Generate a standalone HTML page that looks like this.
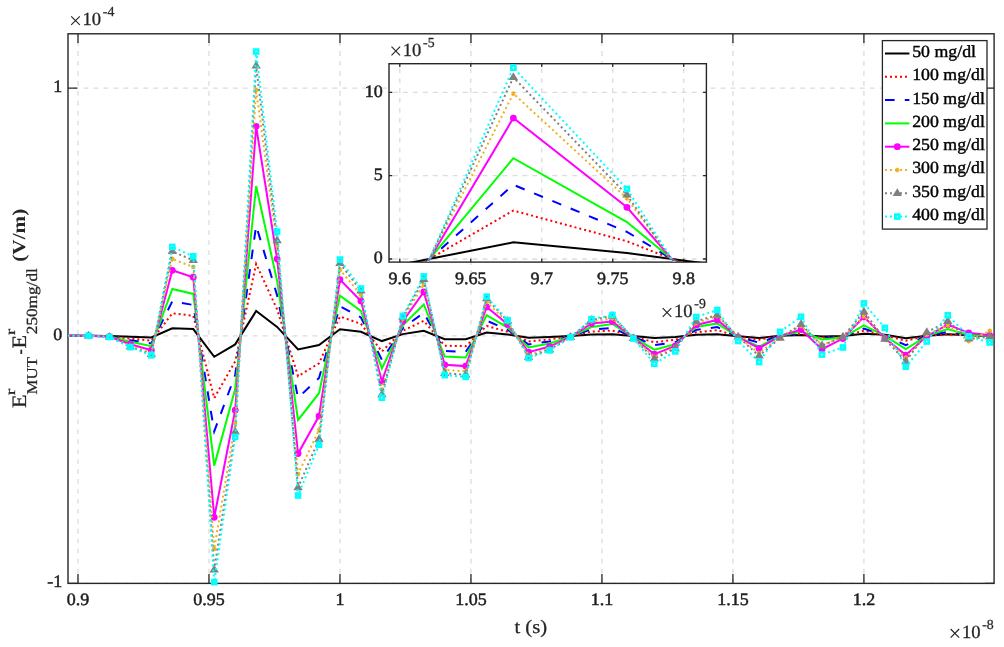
<!DOCTYPE html>
<html><head><meta charset="utf-8"><title>chart</title>
<style>html,body{margin:0;padding:0;background:#fff;}body{width:1004px;height:647px;overflow:hidden;font-family:"Liberation Serif",serif;}svg{display:block;will-change:transform;text-rendering:geometricPrecision;}</style>
</head><body>
<svg width="1004" height="647" viewBox="0 0 1004 647" font-family="'Liberation Serif', serif"><defs><clipPath id="cm"><rect x="68.0" y="33.8" width="926.1" height="549.6"/></clipPath><clipPath id="ci"><rect x="389.0" y="63.7" width="317.4" height="198.40000000000003"/></clipPath></defs>
<g stroke="#dcdcdc" stroke-width="1.3" stroke-dasharray="4.8 5.153"><line x1="78" y1="583.4" x2="78" y2="33.8"/><line x1="208.98" y1="583.4" x2="208.98" y2="33.8"/><line x1="339.97" y1="583.4" x2="339.97" y2="33.8"/><line x1="470.96" y1="583.4" x2="470.96" y2="33.8"/><line x1="601.94" y1="583.4" x2="601.94" y2="33.8"/><line x1="732.92" y1="583.4" x2="732.92" y2="33.8"/><line x1="863.91" y1="583.4" x2="863.91" y2="33.8"/><line x1="994.1" y1="583.4" x2="68.0" y2="583.4"/><line x1="994.1" y1="335.8" x2="68.0" y2="335.8"/><line x1="994.1" y1="88.2" x2="68.0" y2="88.2"/></g>
<path d="M78 583.4V574.1M78 33.8V43.1M208.98 583.4V574.1M208.98 33.8V43.1M339.97 583.4V574.1M339.97 33.8V43.1M470.96 583.4V574.1M470.96 33.8V43.1M601.94 583.4V574.1M601.94 33.8V43.1M732.92 583.4V574.1M732.92 33.8V43.1M863.91 583.4V574.1M863.91 33.8V43.1M68.0 583.4H77.3M994.1 583.4H984.8M68.0 335.8H77.3M994.1 335.8H984.8M68.0 88.2H77.3M994.1 88.2H984.8" stroke="#262626" stroke-width="1.3" fill="none"/>
<rect x="68.0" y="33.8" width="926.1" height="549.6" fill="none" stroke="#262626" stroke-width="1.4"/>
<g><polyline clip-path="url(#cm)" points="67.52,335.8 88.48,335.8 109.44,335.91 130.39,336.77 151.35,337.46 172.31,328.24 193.27,329.04 214.22,356.74 235.18,344.39 256.14,311.04 277.1,326.89 298.05,349.37 319.01,345.06 339.97,329.32 360.93,331.78 381.89,341.06 402.84,334.12 423.8,330.75 444.76,339.15 465.72,339.29 486.67,332.47 507.63,334.47 528.59,337.69 549.55,337.04 570.5,335.93 591.46,334.39 612.42,334.31 633.38,336.05 654.33,338.03 675.29,337.04 696.25,334.81 717.21,334.31 738.16,336.3 759.12,338.03 780.08,335.8 801.04,335.06 821.99,336.54 842.95,336.05 863.91,333.82 884.87,334.81 905.83,338.28 926.78,335.8 947.74,334.31 968.7,335.3 989.66,335.8 1010.61,335.8" fill="none" stroke="#000000" stroke-width="2.0" stroke-linejoin="miter"/>
<polyline clip-path="url(#cm)" points="67.52,335.8 88.48,335.8 109.44,336.11 130.39,338.68 151.35,340.75 172.31,313.31 193.27,315.69 214.22,398.13 235.18,361.36 256.14,263.89 277.1,309.43 298.05,376.2 319.01,363.36 339.97,316.51 360.93,323.84 381.89,351.46 402.84,330.79 423.8,320.77 444.76,345.76 465.72,346.2 486.67,325.9 507.63,331.85 528.59,341.44 549.55,339.5 570.5,336.18 591.46,331.6 612.42,330.6 633.38,336.54 654.33,342.24 675.29,339.76 696.25,332.33 717.21,330.11 738.16,336.54 759.12,339.76 780.08,335.8 801.04,333.82 821.99,337.53 842.95,336.54 863.91,330.6 884.87,335.3 905.83,340.75 926.78,335.8 947.74,334.31 968.7,335.3 989.66,335.8 1010.61,335.8" fill="none" stroke="#ff0000" stroke-width="2.0" stroke-dasharray="2 3" stroke-linejoin="miter"/>
<polyline clip-path="url(#cm)" points="67.52,335.8 88.48,335.8 109.44,336.28 130.39,340.22 151.35,343.39 172.31,301.31 193.27,304.96 214.22,431.39 235.18,375 256.14,225.51 277.1,295.36 298.05,397.76 319.01,378.07 339.97,306.21 360.93,317.45 381.89,359.82 402.84,328.11 423.8,312.74 444.76,351.07 465.72,351.75 486.67,320.62 507.63,329.75 528.59,344.45 549.55,341.47 570.5,336.38 591.46,329.36 612.42,328.12 633.38,336.79 654.33,345.21 675.29,342.24 696.25,329.86 717.21,327.13 738.16,336.79 759.12,342.73 780.08,335.8 801.04,332.83 821.99,338.28 842.95,337.04 863.91,328.62 884.87,335.8 905.83,345.21 926.78,335.8 947.74,331.84 968.7,335.3 989.66,335.8 1010.61,335.8" fill="none" stroke="#0000ff" stroke-width="2.0" stroke-dasharray="9.6 10.2" stroke-dashoffset="17.16" stroke-linejoin="miter"/>
<polyline clip-path="url(#cm)" points="67.52,335.8 88.48,335.8 109.44,336.45 130.39,341.8 151.35,346.11 172.31,288.96 193.27,293.91 214.22,465.63 235.18,389.04 256.14,186 277.1,280.87 298.05,419.96 319.01,393.21 339.97,295.61 360.93,310.88 381.89,368.42 402.84,325.36 423.8,304.48 444.76,356.55 465.72,357.46 486.67,315.18 507.63,327.58 528.59,347.54 549.55,343.5 570.5,336.58 591.46,327.06 612.42,323.92 633.38,337.29 654.33,349.67 675.29,344.22 696.25,326.89 717.21,323.42 738.16,337.04 759.12,346.69 780.08,335.8 801.04,331.59 821.99,339.51 842.95,337.53 863.91,325.4 884.87,335.8 905.83,349.17 926.78,335.8 947.74,329.11 968.7,335.06 989.66,335.8 1010.61,335.8" fill="none" stroke="#00ff00" stroke-width="2.0" stroke-linejoin="miter"/>
<polyline clip-path="url(#cm)" points="67.52,335.8 88.48,335.8 109.44,336.71 130.39,344.19 151.35,350.22 172.31,270.29 193.27,277.22 214.22,517.37 235.18,410.25 256.14,126.31 277.1,258.98 298.05,453.5 319.01,416.09 339.97,279.6 360.93,300.95 381.89,381.42 402.84,321.2 423.8,292 444.76,364.81 465.72,366.09 486.67,306.97 507.63,324.3 528.59,352.22 549.55,346.57 570.5,336.89 591.46,323.57 612.42,321.44 633.38,337.78 654.33,354.12 675.29,345.95 696.25,324.91 717.21,319.95 738.16,337.04 759.12,348.43 780.08,335.8 801.04,329.61 821.99,349.17 842.95,338.52 863.91,316.73 884.87,338.28 905.83,355.11 926.78,336.3 947.74,324.66 968.7,332.83 989.66,335.3 1010.61,335.8" fill="none" stroke="#ff00ff" stroke-width="2.0" stroke-linejoin="miter"/>
<circle cx="88.48" cy="335.8" r="3.4" fill="#ff00ff"/>
<circle cx="109.44" cy="336.71" r="3.4" fill="#ff00ff"/>
<circle cx="130.39" cy="344.19" r="3.4" fill="#ff00ff"/>
<circle cx="151.35" cy="350.22" r="3.4" fill="#ff00ff"/>
<circle cx="172.31" cy="270.29" r="3.4" fill="#ff00ff"/>
<circle cx="193.27" cy="277.22" r="3.4" fill="#ff00ff"/>
<circle cx="214.22" cy="517.37" r="3.4" fill="#ff00ff"/>
<circle cx="235.18" cy="410.25" r="3.4" fill="#ff00ff"/>
<circle cx="256.14" cy="126.31" r="3.4" fill="#ff00ff"/>
<circle cx="277.1" cy="258.98" r="3.4" fill="#ff00ff"/>
<circle cx="298.05" cy="453.5" r="3.4" fill="#ff00ff"/>
<circle cx="319.01" cy="416.09" r="3.4" fill="#ff00ff"/>
<circle cx="339.97" cy="279.6" r="3.4" fill="#ff00ff"/>
<circle cx="360.93" cy="300.95" r="3.4" fill="#ff00ff"/>
<circle cx="381.89" cy="381.42" r="3.4" fill="#ff00ff"/>
<circle cx="402.84" cy="321.2" r="3.4" fill="#ff00ff"/>
<circle cx="423.8" cy="292" r="3.4" fill="#ff00ff"/>
<circle cx="444.76" cy="364.81" r="3.4" fill="#ff00ff"/>
<circle cx="465.72" cy="366.09" r="3.4" fill="#ff00ff"/>
<circle cx="486.67" cy="306.97" r="3.4" fill="#ff00ff"/>
<circle cx="507.63" cy="324.3" r="3.4" fill="#ff00ff"/>
<circle cx="528.59" cy="352.22" r="3.4" fill="#ff00ff"/>
<circle cx="549.55" cy="346.57" r="3.4" fill="#ff00ff"/>
<circle cx="570.5" cy="336.89" r="3.4" fill="#ff00ff"/>
<circle cx="591.46" cy="323.57" r="3.4" fill="#ff00ff"/>
<circle cx="612.42" cy="321.44" r="3.4" fill="#ff00ff"/>
<circle cx="633.38" cy="337.78" r="3.4" fill="#ff00ff"/>
<circle cx="654.33" cy="354.12" r="3.4" fill="#ff00ff"/>
<circle cx="675.29" cy="345.95" r="3.4" fill="#ff00ff"/>
<circle cx="696.25" cy="324.91" r="3.4" fill="#ff00ff"/>
<circle cx="717.21" cy="319.95" r="3.4" fill="#ff00ff"/>
<circle cx="738.16" cy="337.04" r="3.4" fill="#ff00ff"/>
<circle cx="759.12" cy="348.43" r="3.4" fill="#ff00ff"/>
<circle cx="780.08" cy="335.8" r="3.4" fill="#ff00ff"/>
<circle cx="801.04" cy="329.61" r="3.4" fill="#ff00ff"/>
<circle cx="821.99" cy="349.17" r="3.4" fill="#ff00ff"/>
<circle cx="842.95" cy="338.52" r="3.4" fill="#ff00ff"/>
<circle cx="863.91" cy="316.73" r="3.4" fill="#ff00ff"/>
<circle cx="884.87" cy="338.28" r="3.4" fill="#ff00ff"/>
<circle cx="905.83" cy="355.11" r="3.4" fill="#ff00ff"/>
<circle cx="926.78" cy="336.3" r="3.4" fill="#ff00ff"/>
<circle cx="947.74" cy="324.66" r="3.4" fill="#ff00ff"/>
<circle cx="968.7" cy="332.83" r="3.4" fill="#ff00ff"/>
<circle cx="989.66" cy="335.3" r="3.4" fill="#ff00ff"/>
<polyline clip-path="url(#cm)" points="67.52,335.8 88.48,335.8 109.44,336.87 130.39,345.65 151.35,352.72 172.31,258.91 193.27,267.05 214.22,548.9 235.18,423.18 256.14,89.93 277.1,245.63 298.05,473.94 319.01,430.04 339.97,269.83 360.93,294.89 381.89,389.34 402.84,318.67 423.8,284.4 444.76,369.85 465.72,371.35 486.67,301.96 507.63,322.31 528.59,355.08 549.55,348.44 570.5,337.09 591.46,321.45 612.42,318.47 633.38,338.03 654.33,356.85 675.29,347.19 696.25,322.92 717.21,316.24 738.16,337.04 759.12,353.13 780.08,337.04 801.04,325.9 821.99,344.96 842.95,337.29 863.91,316.24 884.87,338.28 905.83,357.59 926.78,334.56 947.74,325.4 968.7,341.25 989.66,330.85 1010.61,333.32" fill="none" stroke="#edb120" stroke-width="2.0" stroke-dasharray="2 3" stroke-linejoin="miter"/>
<path d="M88.48 333.5L88.48 338.1M90.47 334.65L86.49 336.95M90.47 336.95L86.49 334.65" stroke="#edb120" stroke-width="1.6" fill="none"/>
<path d="M109.44 334.57L109.44 339.17M111.43 335.72L107.44 338.02M111.43 338.02L107.44 335.72" stroke="#edb120" stroke-width="1.6" fill="none"/>
<path d="M130.39 343.35L130.39 347.95M132.39 344.5L128.4 346.8M132.39 346.8L128.4 344.5" stroke="#edb120" stroke-width="1.6" fill="none"/>
<path d="M151.35 350.42L151.35 355.02M153.34 351.57L149.36 353.87M153.34 353.87L149.36 351.57" stroke="#edb120" stroke-width="1.6" fill="none"/>
<path d="M172.31 256.61L172.31 261.21M174.3 257.76L170.32 260.06M174.3 260.06L170.32 257.76" stroke="#edb120" stroke-width="1.6" fill="none"/>
<path d="M193.27 264.75L193.27 269.35M195.26 265.9L191.27 268.2M195.26 268.2L191.27 265.9" stroke="#edb120" stroke-width="1.6" fill="none"/>
<path d="M214.22 546.6L214.22 551.2M216.22 547.75L212.23 550.05M216.22 550.05L212.23 547.75" stroke="#edb120" stroke-width="1.6" fill="none"/>
<path d="M235.18 420.88L235.18 425.48M237.17 422.03L233.19 424.33M237.17 424.33L233.19 422.03" stroke="#edb120" stroke-width="1.6" fill="none"/>
<path d="M256.14 87.63L256.14 92.23M258.13 88.78L254.15 91.08M258.13 91.08L254.15 88.78" stroke="#edb120" stroke-width="1.6" fill="none"/>
<path d="M277.1 243.33L277.1 247.93M279.09 244.48L275.11 246.78M279.09 246.78L275.11 244.48" stroke="#edb120" stroke-width="1.6" fill="none"/>
<path d="M298.05 471.64L298.05 476.24M300.05 472.79L296.06 475.09M300.05 475.09L296.06 472.79" stroke="#edb120" stroke-width="1.6" fill="none"/>
<path d="M319.01 427.74L319.01 432.34M321 428.89L317.02 431.19M321 431.19L317.02 428.89" stroke="#edb120" stroke-width="1.6" fill="none"/>
<path d="M339.97 267.53L339.97 272.13M341.96 268.68L337.98 270.98M341.96 270.98L337.98 268.68" stroke="#edb120" stroke-width="1.6" fill="none"/>
<path d="M360.93 292.59L360.93 297.19M362.92 293.74L358.94 296.04M362.92 296.04L358.94 293.74" stroke="#edb120" stroke-width="1.6" fill="none"/>
<path d="M381.89 387.04L381.89 391.64M383.88 388.19L379.89 390.49M383.88 390.49L379.89 388.19" stroke="#edb120" stroke-width="1.6" fill="none"/>
<path d="M402.84 316.37L402.84 320.97M404.83 317.52L400.85 319.82M404.83 319.82L400.85 317.52" stroke="#edb120" stroke-width="1.6" fill="none"/>
<path d="M423.8 282.1L423.8 286.7M425.79 283.25L421.81 285.55M425.79 285.55L421.81 283.25" stroke="#edb120" stroke-width="1.6" fill="none"/>
<path d="M444.76 367.55L444.76 372.15M446.75 368.7L442.77 371M446.75 371L442.77 368.7" stroke="#edb120" stroke-width="1.6" fill="none"/>
<path d="M465.72 369.05L465.72 373.65M467.71 370.2L463.72 372.5M467.71 372.5L463.72 370.2" stroke="#edb120" stroke-width="1.6" fill="none"/>
<path d="M486.67 299.66L486.67 304.26M488.67 300.81L484.68 303.11M488.67 303.11L484.68 300.81" stroke="#edb120" stroke-width="1.6" fill="none"/>
<path d="M507.63 320.01L507.63 324.61M509.62 321.16L505.64 323.46M509.62 323.46L505.64 321.16" stroke="#edb120" stroke-width="1.6" fill="none"/>
<path d="M528.59 352.78L528.59 357.38M530.58 353.93L526.6 356.23M530.58 356.23L526.6 353.93" stroke="#edb120" stroke-width="1.6" fill="none"/>
<path d="M549.55 346.14L549.55 350.74M551.54 347.29L547.55 349.59M551.54 349.59L547.55 347.29" stroke="#edb120" stroke-width="1.6" fill="none"/>
<path d="M570.5 334.79L570.5 339.39M572.5 335.94L568.51 338.24M572.5 338.24L568.51 335.94" stroke="#edb120" stroke-width="1.6" fill="none"/>
<path d="M591.46 319.15L591.46 323.75M593.45 320.3L589.47 322.6M593.45 322.6L589.47 320.3" stroke="#edb120" stroke-width="1.6" fill="none"/>
<path d="M612.42 316.17L612.42 320.77M614.41 317.32L610.43 319.62M614.41 319.62L610.43 317.32" stroke="#edb120" stroke-width="1.6" fill="none"/>
<path d="M633.38 335.73L633.38 340.33M635.37 336.88L631.38 339.18M635.37 339.18L631.38 336.88" stroke="#edb120" stroke-width="1.6" fill="none"/>
<path d="M654.33 354.55L654.33 359.15M656.33 355.7L652.34 358M656.33 358L652.34 355.7" stroke="#edb120" stroke-width="1.6" fill="none"/>
<path d="M675.29 344.89L675.29 349.49M677.28 346.04L673.3 348.34M677.28 348.34L673.3 346.04" stroke="#edb120" stroke-width="1.6" fill="none"/>
<path d="M696.25 320.62L696.25 325.22M698.24 321.77L694.26 324.07M698.24 324.07L694.26 321.77" stroke="#edb120" stroke-width="1.6" fill="none"/>
<path d="M717.21 313.94L717.21 318.54M719.2 315.09L715.21 317.39M719.2 317.39L715.21 315.09" stroke="#edb120" stroke-width="1.6" fill="none"/>
<path d="M738.16 334.74L738.16 339.34M740.16 335.89L736.17 338.19M740.16 338.19L736.17 335.89" stroke="#edb120" stroke-width="1.6" fill="none"/>
<path d="M759.12 350.83L759.12 355.43M761.11 351.98L757.13 354.28M761.11 354.28L757.13 351.98" stroke="#edb120" stroke-width="1.6" fill="none"/>
<path d="M780.08 334.74L780.08 339.34M782.07 335.89L778.09 338.19M782.07 338.19L778.09 335.89" stroke="#edb120" stroke-width="1.6" fill="none"/>
<path d="M801.04 323.6L801.04 328.2M803.03 324.75L799.05 327.05M803.03 327.05L799.05 324.75" stroke="#edb120" stroke-width="1.6" fill="none"/>
<path d="M821.99 342.66L821.99 347.26M823.99 343.81L820 346.11M823.99 346.11L820 343.81" stroke="#edb120" stroke-width="1.6" fill="none"/>
<path d="M842.95 334.99L842.95 339.59M844.94 336.14L840.96 338.44M844.94 338.44L840.96 336.14" stroke="#edb120" stroke-width="1.6" fill="none"/>
<path d="M863.91 313.94L863.91 318.54M865.9 315.09L861.92 317.39M865.9 317.39L861.92 315.09" stroke="#edb120" stroke-width="1.6" fill="none"/>
<path d="M884.87 335.98L884.87 340.58M886.86 337.13L882.88 339.43M886.86 339.43L882.88 337.13" stroke="#edb120" stroke-width="1.6" fill="none"/>
<path d="M905.83 355.29L905.83 359.89M907.82 356.44L903.83 358.74M907.82 358.74L903.83 356.44" stroke="#edb120" stroke-width="1.6" fill="none"/>
<path d="M926.78 332.26L926.78 336.86M928.77 333.41L924.79 335.71M928.77 335.71L924.79 333.41" stroke="#edb120" stroke-width="1.6" fill="none"/>
<path d="M947.74 323.1L947.74 327.7M949.73 324.25L945.75 326.55M949.73 326.55L945.75 324.25" stroke="#edb120" stroke-width="1.6" fill="none"/>
<path d="M968.7 338.95L968.7 343.55M970.69 340.1L966.71 342.4M970.69 342.4L966.71 340.1" stroke="#edb120" stroke-width="1.6" fill="none"/>
<path d="M989.66 328.55L989.66 333.15M991.65 329.7L987.66 332M991.65 332L987.66 329.7" stroke="#edb120" stroke-width="1.6" fill="none"/>
<polyline clip-path="url(#cm)" points="67.52,335.8 88.48,335.8 109.44,336.98 130.39,346.62 151.35,354.38 172.31,251.36 193.27,260.29 214.22,569.84 235.18,431.77 256.14,65.77 277.1,240.47 298.05,487.52 319.01,439.3 339.97,263.35 360.93,290.87 381.89,394.61 402.84,316.98 423.8,279.35 444.76,373.2 465.72,374.85 486.67,298.64 507.63,320.98 528.59,356.97 549.55,349.68 570.5,337.21 591.46,320.04 612.42,315.99 633.38,338.28 654.33,358.83 675.29,348.43 696.25,321.19 717.21,315 738.16,336.79 759.12,355.86 780.08,338.03 801.04,324.41 821.99,345.7 842.95,336.79 863.91,311.78 884.87,339.02 905.83,361.55 926.78,332.33 947.74,321.19 968.7,338.77 989.66,336.79 1010.61,335.8" fill="none" stroke="#808080" stroke-width="2.0" stroke-dasharray="2 3" stroke-linejoin="miter"/>
<path d="M88.48 330.7L93.18 338.5L83.78 338.5Z" fill="#808080"/>
<path d="M109.44 331.88L114.14 339.68L104.74 339.68Z" fill="#808080"/>
<path d="M130.39 341.52L135.09 349.32L125.69 349.32Z" fill="#808080"/>
<path d="M151.35 349.28L156.05 357.08L146.65 357.08Z" fill="#808080"/>
<path d="M172.31 246.26L177.01 254.06L167.61 254.06Z" fill="#808080"/>
<path d="M193.27 255.19L197.97 262.99L188.57 262.99Z" fill="#808080"/>
<path d="M214.22 564.74L218.92 572.54L209.52 572.54Z" fill="#808080"/>
<path d="M235.18 426.67L239.88 434.47L230.48 434.47Z" fill="#808080"/>
<path d="M256.14 60.67L260.84 68.47L251.44 68.47Z" fill="#808080"/>
<path d="M277.1 235.37L281.8 243.17L272.4 243.17Z" fill="#808080"/>
<path d="M298.05 482.42L302.75 490.22L293.35 490.22Z" fill="#808080"/>
<path d="M319.01 434.2L323.71 442L314.31 442Z" fill="#808080"/>
<path d="M339.97 258.25L344.67 266.05L335.27 266.05Z" fill="#808080"/>
<path d="M360.93 285.77L365.63 293.57L356.23 293.57Z" fill="#808080"/>
<path d="M381.89 389.5L386.59 397.31L377.19 397.31Z" fill="#808080"/>
<path d="M402.84 311.88L407.54 319.68L398.14 319.68Z" fill="#808080"/>
<path d="M423.8 274.25L428.5 282.05L419.1 282.05Z" fill="#808080"/>
<path d="M444.76 368.1L449.46 375.9L440.06 375.9Z" fill="#808080"/>
<path d="M465.72 369.75L470.42 377.55L461.02 377.55Z" fill="#808080"/>
<path d="M486.67 293.54L491.37 301.34L481.97 301.34Z" fill="#808080"/>
<path d="M507.63 315.88L512.33 323.68L502.93 323.68Z" fill="#808080"/>
<path d="M528.59 351.87L533.29 359.67L523.89 359.67Z" fill="#808080"/>
<path d="M549.55 344.58L554.25 352.38L544.85 352.38Z" fill="#808080"/>
<path d="M570.5 332.11L575.2 339.91L565.8 339.91Z" fill="#808080"/>
<path d="M591.46 314.94L596.16 322.74L586.76 322.74Z" fill="#808080"/>
<path d="M612.42 310.89L617.12 318.69L607.72 318.69Z" fill="#808080"/>
<path d="M633.38 333.18L638.08 340.98L628.68 340.98Z" fill="#808080"/>
<path d="M654.33 353.73L659.03 361.53L649.63 361.53Z" fill="#808080"/>
<path d="M675.29 343.33L679.99 351.13L670.59 351.13Z" fill="#808080"/>
<path d="M696.25 316.09L700.95 323.89L691.55 323.89Z" fill="#808080"/>
<path d="M717.21 309.9L721.91 317.7L712.51 317.7Z" fill="#808080"/>
<path d="M738.16 331.69L742.86 339.49L733.46 339.49Z" fill="#808080"/>
<path d="M759.12 350.76L763.82 358.56L754.42 358.56Z" fill="#808080"/>
<path d="M780.08 332.93L784.78 340.73L775.38 340.73Z" fill="#808080"/>
<path d="M801.04 319.31L805.74 327.11L796.34 327.11Z" fill="#808080"/>
<path d="M821.99 340.6L826.69 348.4L817.29 348.4Z" fill="#808080"/>
<path d="M842.95 331.69L847.65 339.49L838.25 339.49Z" fill="#808080"/>
<path d="M863.91 306.68L868.61 314.48L859.21 314.48Z" fill="#808080"/>
<path d="M884.87 333.92L889.57 341.72L880.17 341.72Z" fill="#808080"/>
<path d="M905.83 356.45L910.53 364.25L901.13 364.25Z" fill="#808080"/>
<path d="M926.78 327.23L931.48 335.03L922.08 335.03Z" fill="#808080"/>
<path d="M947.74 316.09L952.44 323.89L943.04 323.89Z" fill="#808080"/>
<path d="M968.7 333.67L973.4 341.47L964 341.47Z" fill="#808080"/>
<path d="M989.66 331.69L994.36 339.49L984.96 339.49Z" fill="#808080"/>
<polyline clip-path="url(#cm)" points="67.52,335.8 88.48,335.8 109.44,337.04 130.39,347.19 151.35,355.36 172.31,246.91 193.27,256.32 214.22,582.16 235.18,436.82 256.14,51.56 277.1,231.56 298.05,495.5 319.01,444.74 339.97,259.54 360.93,288.51 381.89,397.7 402.84,315.99 423.8,276.38 444.76,375.17 465.72,376.9 486.67,296.68 507.63,320.2 528.59,358.08 549.55,350.41 570.5,337.29 591.46,319.21 612.42,315 633.38,338.52 654.33,363.78 675.29,351.4 696.25,316.98 717.21,310.05 738.16,341 759.12,362.05 780.08,331.84 801.04,316.73 821.99,354.62 842.95,347.44 863.91,303.36 884.87,327.88 905.83,366.75 926.78,341.49 947.74,315.25 968.7,336.3 989.66,342.49 1010.61,328.37" fill="none" stroke="#00ffff" stroke-width="2.0" stroke-dasharray="2 3" stroke-linejoin="miter"/>
<rect x="86.48" y="333.8" width="4" height="4" fill="none" stroke="#00ffff" stroke-width="2.6"/>
<rect x="107.44" y="335.04" width="4" height="4" fill="none" stroke="#00ffff" stroke-width="2.6"/>
<rect x="128.39" y="345.19" width="4" height="4" fill="none" stroke="#00ffff" stroke-width="2.6"/>
<rect x="149.35" y="353.36" width="4" height="4" fill="none" stroke="#00ffff" stroke-width="2.6"/>
<rect x="170.31" y="244.91" width="4" height="4" fill="none" stroke="#00ffff" stroke-width="2.6"/>
<rect x="191.27" y="254.32" width="4" height="4" fill="none" stroke="#00ffff" stroke-width="2.6"/>
<rect x="212.22" y="580.16" width="4" height="4" fill="none" stroke="#00ffff" stroke-width="2.6"/>
<rect x="233.18" y="434.82" width="4" height="4" fill="none" stroke="#00ffff" stroke-width="2.6"/>
<rect x="254.14" y="49.56" width="4" height="4" fill="none" stroke="#00ffff" stroke-width="2.6"/>
<rect x="275.1" y="229.56" width="4" height="4" fill="none" stroke="#00ffff" stroke-width="2.6"/>
<rect x="296.05" y="493.5" width="4" height="4" fill="none" stroke="#00ffff" stroke-width="2.6"/>
<rect x="317.01" y="442.74" width="4" height="4" fill="none" stroke="#00ffff" stroke-width="2.6"/>
<rect x="337.97" y="257.54" width="4" height="4" fill="none" stroke="#00ffff" stroke-width="2.6"/>
<rect x="358.93" y="286.51" width="4" height="4" fill="none" stroke="#00ffff" stroke-width="2.6"/>
<rect x="379.89" y="395.7" width="4" height="4" fill="none" stroke="#00ffff" stroke-width="2.6"/>
<rect x="400.84" y="313.99" width="4" height="4" fill="none" stroke="#00ffff" stroke-width="2.6"/>
<rect x="421.8" y="274.38" width="4" height="4" fill="none" stroke="#00ffff" stroke-width="2.6"/>
<rect x="442.76" y="373.17" width="4" height="4" fill="none" stroke="#00ffff" stroke-width="2.6"/>
<rect x="463.72" y="374.9" width="4" height="4" fill="none" stroke="#00ffff" stroke-width="2.6"/>
<rect x="484.67" y="294.68" width="4" height="4" fill="none" stroke="#00ffff" stroke-width="2.6"/>
<rect x="505.63" y="318.2" width="4" height="4" fill="none" stroke="#00ffff" stroke-width="2.6"/>
<rect x="526.59" y="356.08" width="4" height="4" fill="none" stroke="#00ffff" stroke-width="2.6"/>
<rect x="547.55" y="348.41" width="4" height="4" fill="none" stroke="#00ffff" stroke-width="2.6"/>
<rect x="568.5" y="335.29" width="4" height="4" fill="none" stroke="#00ffff" stroke-width="2.6"/>
<rect x="589.46" y="317.21" width="4" height="4" fill="none" stroke="#00ffff" stroke-width="2.6"/>
<rect x="610.42" y="313" width="4" height="4" fill="none" stroke="#00ffff" stroke-width="2.6"/>
<rect x="631.38" y="336.52" width="4" height="4" fill="none" stroke="#00ffff" stroke-width="2.6"/>
<rect x="652.33" y="361.78" width="4" height="4" fill="none" stroke="#00ffff" stroke-width="2.6"/>
<rect x="673.29" y="349.4" width="4" height="4" fill="none" stroke="#00ffff" stroke-width="2.6"/>
<rect x="694.25" y="314.98" width="4" height="4" fill="none" stroke="#00ffff" stroke-width="2.6"/>
<rect x="715.21" y="308.05" width="4" height="4" fill="none" stroke="#00ffff" stroke-width="2.6"/>
<rect x="736.16" y="339" width="4" height="4" fill="none" stroke="#00ffff" stroke-width="2.6"/>
<rect x="757.12" y="360.05" width="4" height="4" fill="none" stroke="#00ffff" stroke-width="2.6"/>
<rect x="778.08" y="329.84" width="4" height="4" fill="none" stroke="#00ffff" stroke-width="2.6"/>
<rect x="799.04" y="314.73" width="4" height="4" fill="none" stroke="#00ffff" stroke-width="2.6"/>
<rect x="819.99" y="352.62" width="4" height="4" fill="none" stroke="#00ffff" stroke-width="2.6"/>
<rect x="840.95" y="345.44" width="4" height="4" fill="none" stroke="#00ffff" stroke-width="2.6"/>
<rect x="861.91" y="301.36" width="4" height="4" fill="none" stroke="#00ffff" stroke-width="2.6"/>
<rect x="882.87" y="325.88" width="4" height="4" fill="none" stroke="#00ffff" stroke-width="2.6"/>
<rect x="903.83" y="364.75" width="4" height="4" fill="none" stroke="#00ffff" stroke-width="2.6"/>
<rect x="924.78" y="339.49" width="4" height="4" fill="none" stroke="#00ffff" stroke-width="2.6"/>
<rect x="945.74" y="313.25" width="4" height="4" fill="none" stroke="#00ffff" stroke-width="2.6"/>
<rect x="966.7" y="334.3" width="4" height="4" fill="none" stroke="#00ffff" stroke-width="2.6"/>
<rect x="987.66" y="340.49" width="4" height="4" fill="none" stroke="#00ffff" stroke-width="2.6"/></g>
<g font-size="18" fill="#1e1e1e" stroke="#1e1e1e" stroke-width="0.5"><text x="66.75" y="605.1" font-size="17.4" textLength="22.5" lengthAdjust="spacingAndGlyphs">0.9</text><text x="193.23" y="605.1" font-size="17.4" textLength="31.5" lengthAdjust="spacingAndGlyphs">0.95</text><text x="335.47" y="605.1" font-size="17.4" textLength="9" lengthAdjust="spacingAndGlyphs">1</text><text x="455.21" y="605.1" font-size="17.4" textLength="31.5" lengthAdjust="spacingAndGlyphs">1.05</text><text x="590.69" y="605.1" font-size="17.4" textLength="22.5" lengthAdjust="spacingAndGlyphs">1.1</text><text x="717.17" y="605.1" font-size="17.4" textLength="31.5" lengthAdjust="spacingAndGlyphs">1.15</text><text x="852.66" y="605.1" font-size="17.4" textLength="22.5" lengthAdjust="spacingAndGlyphs">1.2</text><text x="47.21" y="587.3" font-size="17.4" textLength="14.99" lengthAdjust="spacingAndGlyphs">-1</text><text x="53.2" y="339.7" font-size="17.4" textLength="9" lengthAdjust="spacingAndGlyphs">0</text><text x="53.2" y="92.1" font-size="17.4" textLength="9" lengthAdjust="spacingAndGlyphs">1</text></g>
<path d="M71.2 16.3L79.8 24.9M79.8 16.3L71.2 24.9" stroke="#262626" stroke-width="1.15" fill="none"/><text x="82.5" y="25.3" font-size="18.6" fill="#262626" stroke="#262626" stroke-width="0.3" textLength="18.6" lengthAdjust="spacingAndGlyphs">10</text><text x="102.8" y="16.3" font-size="13.8" fill="#262626" stroke="#262626" stroke-width="0.25">-4</text>
<path d="M950.6 629L959.2 637.6M959.2 629L950.6 637.6" stroke="#262626" stroke-width="1.15" fill="none"/><text x="961.9" y="638" font-size="18.6" fill="#262626" stroke="#262626" stroke-width="0.3" textLength="18.6" lengthAdjust="spacingAndGlyphs">10</text><text x="982.2" y="629" font-size="13.8" fill="#262626" stroke="#262626" stroke-width="0.25">-8</text>
<text x="514.4" y="632.8" font-size="19" fill="#262626" stroke="#262626" stroke-width="0.25" textLength="32.8" lengthAdjust="spacingAndGlyphs">t (s)</text>
<g transform="translate(26.4 408) rotate(-90)" fill="#262626" stroke="#262626" stroke-width="0.25"><text x="0" y="0" font-size="20.5" textLength="13.6" lengthAdjust="spacingAndGlyphs">E</text><text x="12.8" y="-11.9" font-size="13.5" textLength="6.6" lengthAdjust="spacingAndGlyphs">r</text><text x="13.6" y="10.2" font-size="15" textLength="37.4" lengthAdjust="spacingAndGlyphs">MUT</text><text x="53.6" y="0" font-size="20" textLength="5.1" lengthAdjust="spacingAndGlyphs">-</text><text x="59.5" y="0" font-size="20.5" textLength="13.6" lengthAdjust="spacingAndGlyphs">E</text><text x="73.1" y="-11.9" font-size="13.5" textLength="6.2" lengthAdjust="spacingAndGlyphs">r</text><text x="73.8" y="10.2" font-size="15.5" textLength="66" lengthAdjust="spacingAndGlyphs">250mg/dl</text><text x="146.3" y="-1.5" font-size="18.4" font-weight="bold" stroke-width="0" textLength="53" lengthAdjust="spacingAndGlyphs">(V/m)</text></g>
<rect x="389.0" y="63.7" width="317.4" height="198.4" fill="#fff"/>
<g stroke="#dcdcdc" stroke-width="1.3" stroke-dasharray="4.8 5.153"><line x1="399.8" y1="262.1" x2="399.8" y2="63.7"/><line x1="470.78" y1="262.1" x2="470.78" y2="63.7"/><line x1="541.76" y1="262.1" x2="541.76" y2="63.7"/><line x1="612.74" y1="262.1" x2="612.74" y2="63.7"/><line x1="683.72" y1="262.1" x2="683.72" y2="63.7"/><line x1="706.4" y1="259" x2="389.0" y2="259"/><line x1="706.4" y1="175.7" x2="389.0" y2="175.7"/><line x1="706.4" y1="92.4" x2="389.0" y2="92.4"/></g>
<path d="M399.8 262.1V258.8M399.8 63.7V67M470.78 262.1V258.8M470.78 63.7V67M541.76 262.1V258.8M541.76 63.7V67M612.74 262.1V258.8M612.74 63.7V67M683.72 262.1V258.8M683.72 63.7V67M389.0 259H392.3M706.4 259H703.1M389.0 175.7H392.3M706.4 175.7H703.1M389.0 92.4H392.3M706.4 92.4H703.1" stroke="#262626" stroke-width="1.3" fill="none"/>
<rect x="389.0" y="63.7" width="317.4" height="198.4" fill="none" stroke="#262626" stroke-width="1.4"/>
<g><polyline clip-path="url(#ci)" points="-508.74,259 -395.18,259 -281.61,259.07 -168.04,259.65 -54.47,260.12 59.1,253.92 172.66,254.45 286.23,273.09 399.8,264.78 513.37,242.34 626.94,253 740.5,268.13 854.07,265.23 967.64,254.64 1081.21,256.3 1194.78,262.54 1308.34,257.87 1421.91,255.6 1535.48,261.25 1649.05,261.35 1762.62,256.76 1876.18,258.11 1989.75,260.27 2103.32,259.84 2216.89,259.08 2330.46,258.05 2444.02,258 2557.59,259.17 2671.16,260.5 2784.73,259.83 2898.3,258.33 3011.86,258 3125.43,259.33 3239,260.5 3352.57,259 3466.14,258.5 3579.7,259.5 3693.27,259.17 3806.84,257.67 3920.41,258.33 4033.98,260.67 4147.54,259 4261.11,258 4374.68,258.67 4488.25,259 4601.82,259" fill="none" stroke="#000000" stroke-width="2.0" stroke-linejoin="miter"/>
<polyline clip-path="url(#ci)" points="-508.74,259 -395.18,259 -281.61,259.21 -168.04,260.94 -54.47,262.33 59.1,243.87 172.66,245.47 286.23,300.94 399.8,276.2 513.37,210.61 626.94,241.25 740.5,286.19 854.07,277.55 967.64,246.02 1081.21,250.95 1194.78,269.54 1308.34,255.63 1421.91,248.88 1535.48,265.7 1649.05,266 1762.62,252.34 1876.18,256.34 1989.75,262.79 2103.32,261.49 2216.89,259.25 2330.46,256.18 2444.02,255.5 2557.59,259.5 2671.16,263.33 2784.73,261.67 2898.3,256.67 3011.86,255.17 3125.43,259.5 3239,261.67 3352.57,259 3466.14,257.67 3579.7,260.17 3693.27,259.5 3806.84,255.5 3920.41,258.67 4033.98,262.33 4147.54,259 4261.11,258 4374.68,258.67 4488.25,259 4601.82,259" fill="none" stroke="#ff0000" stroke-width="2.0" stroke-dasharray="2 3" stroke-linejoin="miter"/>
<polyline clip-path="url(#ci)" points="-508.74,259 -395.18,259 -281.61,259.32 -168.04,261.97 -54.47,264.11 59.1,235.79 172.66,238.25 286.23,323.32 399.8,285.37 513.37,184.79 626.94,231.79 740.5,300.69 854.07,287.44 967.64,239.09 1081.21,246.65 1194.78,275.16 1308.34,253.83 1421.91,243.49 1535.48,269.28 1649.05,269.73 1762.62,248.79 1876.18,254.93 1989.75,264.82 2103.32,262.81 2216.89,259.39 2330.46,254.67 2444.02,253.84 2557.59,259.67 2671.16,265.33 2784.73,263.33 2898.3,255 3011.86,253.17 3125.43,259.67 3239,263.66 3352.57,259 3466.14,257 3579.7,260.67 3693.27,259.83 3806.84,254.17 3920.41,259 4033.98,265.33 4147.54,259 4261.11,256.33 4374.68,258.67 4488.25,259 4601.82,259" fill="none" stroke="#0000ff" stroke-width="2.0" stroke-dasharray="9.6 10.2" stroke-dashoffset="7.9" stroke-linejoin="miter"/>
<polyline clip-path="url(#ci)" points="-508.74,259 -395.18,259 -281.61,259.44 -168.04,263.04 -54.47,265.94 59.1,227.48 172.66,230.82 286.23,346.36 399.8,294.82 513.37,158.21 626.94,222.04 740.5,315.63 854.07,297.63 967.64,231.96 1081.21,242.23 1194.78,280.95 1308.34,251.98 1421.91,237.93 1535.48,272.96 1649.05,273.57 1762.62,245.13 1876.18,253.47 1989.75,266.9 2103.32,264.18 2216.89,259.53 2330.46,253.12 2444.02,251 2557.59,260 2671.16,268.33 2784.73,264.66 2898.3,253 3011.86,250.67 3125.43,259.83 3239,266.33 3352.57,259 3466.14,256.17 3579.7,261.5 3693.27,260.17 3806.84,252 3920.41,259 4033.98,268 4147.54,259 4261.11,254.5 4374.68,258.5 4488.25,259 4601.82,259" fill="none" stroke="#00ff00" stroke-width="2.0" stroke-linejoin="miter"/>
<polyline clip-path="url(#ci)" points="-508.74,259 -395.18,259 -281.61,259.61 -168.04,264.65 -54.47,268.7 59.1,214.92 172.66,219.59 286.23,381.17 399.8,309.1 513.37,118.04 626.94,207.31 740.5,338.2 854.07,313.03 967.64,221.18 1081.21,235.55 1194.78,289.7 1308.34,249.18 1421.91,229.53 1535.48,278.52 1649.05,279.38 1762.62,239.6 1876.18,251.26 1989.75,270.05 2103.32,266.24 2216.89,259.74 2330.46,250.77 2444.02,249.34 2557.59,260.33 2671.16,271.33 2784.73,265.83 2898.3,251.67 3011.86,248.34 3125.43,259.83 3239,267.5 3352.57,259 3466.14,254.84 3579.7,268 3693.27,260.83 3806.84,246.17 3920.41,260.67 4033.98,271.99 4147.54,259.33 4261.11,251.5 4374.68,257 4488.25,258.67 4601.82,259" fill="none" stroke="#ff00ff" stroke-width="2.0" stroke-linejoin="miter"/>
<circle cx="513.37" cy="118.04" r="3.4" fill="#ff00ff"/>
<circle cx="626.94" cy="207.31" r="3.4" fill="#ff00ff"/>
<polyline clip-path="url(#ci)" points="-508.74,259 -395.18,259 -281.61,259.72 -168.04,265.63 -54.47,270.38 59.1,207.26 172.66,212.74 286.23,402.39 399.8,317.8 513.37,93.56 626.94,198.33 740.5,351.95 854.07,322.41 967.64,214.61 1081.21,231.48 1194.78,295.03 1308.34,247.47 1421.91,224.41 1535.48,281.91 1649.05,282.92 1762.62,236.23 1876.18,249.92 1989.75,271.97 2103.32,267.5 2216.89,259.86 2330.46,249.34 2444.02,247.34 2557.59,260.5 2671.16,273.16 2784.73,266.66 2898.3,250.34 3011.86,245.84 3125.43,259.83 3239,270.66 3352.57,259.83 3466.14,252.34 3579.7,265.16 3693.27,260 3806.84,245.84 3920.41,260.67 4033.98,273.66 4147.54,258.17 4261.11,252 4374.68,262.67 4488.25,255.67 4601.82,257.33" fill="none" stroke="#edb120" stroke-width="2.0" stroke-dasharray="2 3" stroke-linejoin="miter"/>
<path d="M513.37 91.26L513.37 95.86M515.36 92.41L511.38 94.71M515.36 94.71L511.38 92.41" stroke="#edb120" stroke-width="1.6" fill="none"/>
<path d="M626.94 196.03L626.94 200.63M628.93 197.18L624.94 199.48M628.93 199.48L624.94 197.18" stroke="#edb120" stroke-width="1.6" fill="none"/>
<polyline clip-path="url(#ci)" points="-508.74,259 -395.18,259 -281.61,259.79 -168.04,266.28 -54.47,271.5 59.1,202.18 172.66,208.2 286.23,416.48 399.8,323.57 513.37,77.31 626.94,194.86 740.5,361.08 854.07,328.64 967.64,210.25 1081.21,228.77 1194.78,298.57 1308.34,246.34 1421.91,221.02 1535.48,284.16 1649.05,285.27 1762.62,233.99 1876.18,249.03 1989.75,273.24 2103.32,268.34 2216.89,259.95 2330.46,248.4 2444.02,245.67 2557.59,260.67 2671.16,274.49 2784.73,267.5 2898.3,249.17 3011.86,245.01 3125.43,259.67 3239,272.49 3352.57,260.5 3466.14,251.34 3579.7,265.66 3693.27,259.67 3806.84,242.84 3920.41,261.17 4033.98,276.33 4147.54,256.67 4261.11,249.17 4374.68,261 4488.25,259.67 4601.82,259" fill="none" stroke="#808080" stroke-width="2.0" stroke-dasharray="2 3" stroke-linejoin="miter"/>
<path d="M513.37 72.21L518.07 80.01L508.67 80.01Z" fill="#808080"/>
<path d="M626.94 189.76L631.64 197.56L622.24 197.56Z" fill="#808080"/>
<polyline clip-path="url(#ci)" points="-508.74,259 -395.18,259 -281.61,259.83 -168.04,266.66 -54.47,272.16 59.1,199.19 172.66,205.52 286.23,424.77 399.8,326.97 513.37,67.74 626.94,188.86 740.5,366.46 854.07,332.3 967.64,207.69 1081.21,227.18 1194.78,300.65 1308.34,245.67 1421.91,219.02 1535.48,285.49 1649.05,286.66 1762.62,232.68 1876.18,248.5 1989.75,273.99 2103.32,268.83 2216.89,260 2330.46,247.84 2444.02,245.01 2557.59,260.83 2671.16,277.83 2784.73,269.5 2898.3,246.34 3011.86,241.67 3125.43,262.5 3239,276.66 3352.57,256.33 3466.14,246.17 3579.7,271.66 3693.27,266.83 3806.84,237.18 3920.41,253.67 4033.98,279.82 4147.54,262.83 4261.11,245.17 4374.68,259.33 4488.25,263.5 4601.82,254" fill="none" stroke="#00ffff" stroke-width="2.0" stroke-dasharray="2 3" stroke-linejoin="miter"/>
<rect x="511.37" y="65.74" width="4" height="4" fill="none" stroke="#00ffff" stroke-width="2.6"/>
<rect x="624.94" y="186.86" width="4" height="4" fill="none" stroke="#00ffff" stroke-width="2.6"/></g>
<g font-size="18" fill="#1e1e1e" stroke="#1e1e1e" stroke-width="0.5"><text x="388.55" y="283.8" font-size="17.4" textLength="22.5" lengthAdjust="spacingAndGlyphs">9.6</text><text x="455.03" y="283.8" font-size="17.4" textLength="31.5" lengthAdjust="spacingAndGlyphs">9.65</text><text x="530.51" y="283.8" font-size="17.4" textLength="22.5" lengthAdjust="spacingAndGlyphs">9.7</text><text x="596.99" y="283.8" font-size="17.4" textLength="31.5" lengthAdjust="spacingAndGlyphs">9.75</text><text x="672.47" y="283.8" font-size="17.4" textLength="22.5" lengthAdjust="spacingAndGlyphs">9.8</text><text x="373.8" y="263.2" font-size="17.4" textLength="9" lengthAdjust="spacingAndGlyphs">0</text><text x="373.8" y="179.9" font-size="17.4" textLength="9" lengthAdjust="spacingAndGlyphs">5</text><text x="364.8" y="96.6" font-size="17.4" textLength="18" lengthAdjust="spacingAndGlyphs">10</text></g>
<path d="M391.5 46.7L400.1 55.3M400.1 46.7L391.5 55.3" stroke="#262626" stroke-width="1.15" fill="none"/><text x="402.8" y="55.7" font-size="18.6" fill="#262626" stroke="#262626" stroke-width="0.3" textLength="18.6" lengthAdjust="spacingAndGlyphs">10</text><text x="423.1" y="46.7" font-size="13.8" fill="#262626" stroke="#262626" stroke-width="0.25">-5</text>
<path d="M662.7 308.2L671.3 316.8M671.3 308.2L662.7 316.8" stroke="#262626" stroke-width="1.15" fill="none"/><text x="674" y="317.2" font-size="18.6" fill="#262626" stroke="#262626" stroke-width="0.3" textLength="18.6" lengthAdjust="spacingAndGlyphs">10</text><text x="694.3" y="308.2" font-size="13.8" fill="#262626" stroke="#262626" stroke-width="0.25">-9</text>
<rect x="882.4" y="40.6" width="104.6" height="188.5" fill="#fff" stroke="#262626" stroke-width="1.3"/>
<line x1="885" y1="53.5" x2="909.4" y2="53.5" stroke="#000000" stroke-width="2.0"/>
<text x="912.2" y="56.9" font-size="17" fill="#000" stroke="#000" stroke-width="0.4" textLength="63.8" lengthAdjust="spacingAndGlyphs">50 mg/dl</text>
<line x1="885" y1="76.8" x2="909.4" y2="76.8" stroke="#ff0000" stroke-width="2.0" stroke-dasharray="2 3"/>
<text x="912.2" y="80.2" font-size="17" fill="#000" stroke="#000" stroke-width="0.4" textLength="72.7" lengthAdjust="spacingAndGlyphs">100 mg/dl</text>
<line x1="885" y1="100.1" x2="909.4" y2="100.1" stroke="#0000ff" stroke-width="2.0" stroke-dasharray="9.6 10.2"/>
<text x="912.2" y="103.5" font-size="17" fill="#000" stroke="#000" stroke-width="0.4" textLength="72.7" lengthAdjust="spacingAndGlyphs">150 mg/dl</text>
<line x1="885" y1="123.4" x2="909.4" y2="123.4" stroke="#00ff00" stroke-width="2.0"/>
<text x="912.2" y="126.8" font-size="17" fill="#000" stroke="#000" stroke-width="0.4" textLength="72.7" lengthAdjust="spacingAndGlyphs">200 mg/dl</text>
<line x1="885" y1="146.7" x2="909.4" y2="146.7" stroke="#ff00ff" stroke-width="2.0"/>
<circle cx="897.3" cy="146.7" r="3.4" fill="#ff00ff"/>
<text x="912.2" y="150.1" font-size="17" fill="#000" stroke="#000" stroke-width="0.4" textLength="72.7" lengthAdjust="spacingAndGlyphs">250 mg/dl</text>
<line x1="885" y1="170" x2="909.4" y2="170" stroke="#edb120" stroke-width="2.0" stroke-dasharray="2 3"/>
<path d="M897.3 167.7L897.3 172.3M899.29 168.85L895.31 171.15M899.29 171.15L895.31 168.85" stroke="#edb120" stroke-width="1.6" fill="none"/>
<text x="912.2" y="173.4" font-size="17" fill="#000" stroke="#000" stroke-width="0.4" textLength="72.7" lengthAdjust="spacingAndGlyphs">300 mg/dl</text>
<line x1="885" y1="193.3" x2="909.4" y2="193.3" stroke="#808080" stroke-width="2.0" stroke-dasharray="2 3"/>
<path d="M897.3 188.2L902 196L892.6 196Z" fill="#808080"/>
<text x="912.2" y="196.7" font-size="17" fill="#000" stroke="#000" stroke-width="0.4" textLength="72.7" lengthAdjust="spacingAndGlyphs">350 mg/dl</text>
<line x1="885" y1="216.6" x2="909.4" y2="216.6" stroke="#00ffff" stroke-width="2.0" stroke-dasharray="2 3"/>
<rect x="895.3" y="214.6" width="4" height="4" fill="none" stroke="#00ffff" stroke-width="2.6"/>
<text x="912.2" y="220" font-size="17" fill="#000" stroke="#000" stroke-width="0.4" textLength="72.7" lengthAdjust="spacingAndGlyphs">400 mg/dl</text></svg>
</body></html>
